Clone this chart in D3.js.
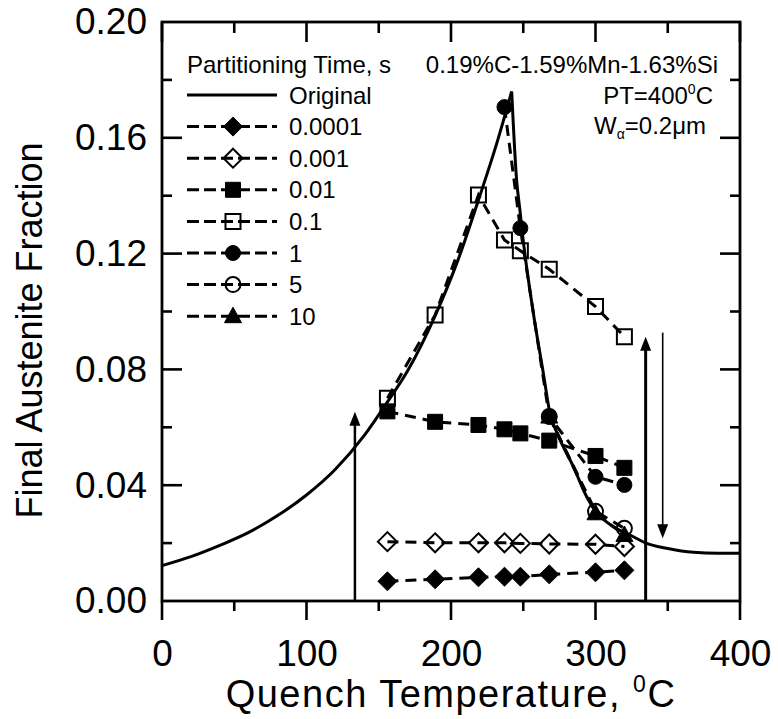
<!DOCTYPE html>
<html>
<head>
<meta charset="utf-8">
<script src="https://cdn.jsdelivr.net/npm/d3@7"></script>
<style>
html,body{margin:0;padding:0;background:#fff;}
svg{display:block;font-family:"Liberation Sans",Arial,Helvetica,sans-serif;}
</style>
</head>
<body>
<svg id="chart" width="778" height="719"></svg>
<script>
// ---------------- data ----------------
const originalT = [0,20,40,60,80,100,120,140,155,170,189,205,219,231.6,242,
                   245.4,247.7,249,257,263.9,268.5,273.5,284.7,293.9,300.5,312.3,326.2,335.4,349.2,367.7,385,400];
const originalF = [.0122,.0153,.0192,.0237,.0295,.0366,.0455,.0572,.068,.0795,.0985,.118,.1385,.158,.176,
                   .1454,.135,.1288,.0994,.0787,.0648,.0579,.0464,.036,.0308,.0257,.0222,.0199,.0182,.0168,.0165,.0165];

const quenchT   = [156,189,219,237,248,268,300,320];
const t0001     = [.0068,.0075,.0082,.0084,.0084,.0092,.0099,.0106];
const t001      = [.0205,.0201,.0201,.0201,.0199,.0197,.0196,.0188];
const t01       = [.0655,.0619,.0608,.0593,.0579,.0554,.0501,.046];
const t1e1      = [.070,.0988,.1402,.1247,.121,.1146,.1017,.0913];
const quenchT1  = [237,248,268,300,320];
const t1        = [.1706,.1288,.0637,.0429,.0401];
const quenchT5  = [268,300,320];
const t5        = [.0637,.031,.0251];
const t10       = [.0637,.0303,.0228];

const legendLabels = ["Original","0.0001","0.001","0.01","0.1","1","5","10"];
const xTicks = [0,100,200,300,400];
const xMinor = [50,150,250,350];
const yTicks = [0,0.04,0.08,0.12,0.16,0.20];
const yMinor = [0.02,0.06,0.10,0.14,0.18];

const arrowT    = [133.5,334.7,346.5];
const arrowFrom = [0,0,.0927];
const arrowTo   = [.0654,.0913,.0217];
const arrowW    = [2.5,3,1.6];

// ---------------- layout ----------------
const svg = d3.select("#chart");
const x = d3.scaleLinear().domain([0,400]).range([162,740]);
const y = d3.scaleLinear().domain([0,0.2]).range([601,22]);
const X0 = 162, X1 = 740, Y0 = 601, Y1 = 22;

function markerPath(type){
  if(type==="diamond") return "M0,-9.5L9.5,0L0,9.5L-9.5,0Z";
  if(type==="square") return "M-7.5,-7.5H7.5V7.5H-7.5Z";
  if(type==="circle") return d3.symbol(d3.symbolCircle, Math.PI*7.5*7.5)();
  if(type==="triangle") return "M0,-9L8.5,6.5L-8.5,6.5Z";
}
const series = [
  {label:"0.0001", T:quenchT,  F:t0001, type:"diamond", filled:true},
  {label:"0.001",  T:quenchT,  F:t001,  type:"diamond", filled:false},
  {label:"0.01",   T:quenchT,  F:t01,   type:"square",  filled:true},
  {label:"0.1",    T:quenchT,  F:t1e1,  type:"square",  filled:false},
  {label:"1",      T:quenchT1, F:t1,    type:"circle",  filled:true},
  {label:"5",      T:quenchT5, F:t5,    type:"circle",  filled:false},
  {label:"10",     T:quenchT5, F:t10,   type:"triangle",filled:true}
];

// ---------------- axes (labels via d3-axis) ----------------
const fmtY = d3.format(".2f");
const gL = svg.append("g").attr("transform",`translate(${X0},0)`)
  .call(d3.axisLeft(y).tickValues(yTicks).tickSize(0).tickPadding(15).tickFormat(fmtY));
const gB = svg.append("g").attr("transform",`translate(0,${Y0})`)
  .call(d3.axisBottom(x).tickValues(xTicks).tickSize(0).tickPadding(39).tickFormat(d3.format("d")));
[gL,gB].forEach(g=>{
  g.select(".domain").remove();
  g.selectAll(".tick line").remove();
  g.selectAll(".tick text").attr("fill","#000").attr("font-size",37)
   .attr("font-family","'Liberation Sans',Arial,sans-serif");
});

// tick marks
const tickG = svg.append("g");
function tickLine(x1,y1,x2,y2){
  tickG.append("line").attr("x1",x1).attr("y1",y1).attr("x2",x2).attr("y2",y2)
    .attr("stroke","#000").attr("stroke-width",2.6);
}
yTicks.slice(1,-1).forEach(v=>{ tickLine(X0,y(v),X0+20,y(v)); tickLine(X1,y(v),X1-20,y(v)); });
yMinor.forEach(v=>{ tickLine(X0,y(v),X0+10,y(v)); tickLine(X1,y(v),X1-10,y(v)); });
xTicks.forEach(v=>{ tickLine(x(v),Y0,x(v),Y0+19); tickLine(x(v),Y1,x(v),Y1+20); });
xMinor.forEach(v=>{ tickLine(x(v),Y0,x(v),Y0+10); tickLine(x(v),Y1,x(v),Y1+11); });

// frame
svg.append("rect").attr("x",X0).attr("y",Y1).attr("width",X1-X0).attr("height",Y0-Y1)
  .attr("fill","none").attr("stroke","#000").attr("stroke-width",2.8);

// axis titles
const xt = svg.append("text").attr("x",x(200)).attr("y",707).attr("text-anchor","middle")
  .attr("font-size",38).attr("letter-spacing",1.5).attr("fill","#000");
xt.append("tspan").text("Quench Temperature, ");
xt.append("tspan").attr("font-size",23).attr("dy",-15).text("0");
xt.append("tspan").attr("dy",15).text("C");

svg.append("text").attr("transform",`translate(42,${(Y1+Y0)/2+19}) rotate(-90)`)
  .attr("text-anchor","middle").attr("font-size",36).attr("fill","#000")
  .text("Final Austenite Fraction");

// ---------------- data marks ----------------
const plot = svg.append("g");
const peakIdx = originalF.indexOf(d3.max(originalF));
const orig = originalT.map((t,i)=>[t,originalF[i]]);
const lineO = d3.line().x(d=>x(d[0])).y(d=>y(d[1])).curve(d3.curveMonotoneX);
[orig.slice(0,peakIdx+1), orig.slice(peakIdx)].forEach(seg=>{
  plot.append("path").attr("d",lineO(seg)).attr("fill","none")
    .attr("stroke","#000").attr("stroke-width",3);
});

const lineS = d3.line().x(d=>x(d[0])).y(d=>y(d[1]));
series.forEach(s=>{
  const pts = s.T.map((t,i)=>[t,s.F[i]]);
  plot.append("path").attr("d",lineS(pts)).attr("fill","none")
    .attr("stroke","#000").attr("stroke-width",3).attr("stroke-dasharray","11,7");
});
series.forEach(s=>{
  const pts = s.T.map((t,i)=>[t,s.F[i]]);
  plot.selectAll(null).data(pts).enter().append("path")
    .attr("d",markerPath(s.type))
    .attr("transform",d=>`translate(${x(d[0])},${y(d[1])})`)
    .attr("fill",s.filled?"#000":"none")
    .attr("stroke","#000").attr("stroke-width",s.filled?1:2);
});

// arrows
arrowT.forEach((t,i)=>{
  const x0 = x(t), y0 = y(arrowFrom[i]), y1 = y(arrowTo[i]);
  const dir = y1<y0 ? -1 : 1;
  svg.append("line").attr("x1",x0).attr("x2",x0).attr("y1",y0).attr("y2",y1-dir*12)
    .attr("stroke","#000").attr("stroke-width",arrowW[i]);
  svg.append("path").attr("d",`M${x0},${y1}L${x0-5.5},${y1-dir*14}L${x0+5.5},${y1-dir*14}Z`)
    .attr("fill","#000");
});

// ---------------- legend ----------------
const lg = svg.append("g").attr("font-size",24).attr("fill","#000");
lg.append("text").attr("x",187).attr("y",73).text("Partitioning Time, s");
const rowY = i => 95 + i*31.6;
legendLabels.forEach((lab,i)=>{
  const yy = rowY(i);
  if(i===0){
    lg.append("line").attr("x1",187).attr("x2",277).attr("y1",yy).attr("y2",yy)
      .attr("stroke","#000").attr("stroke-width",3);
  } else {
    const s = series[i-1];
    lg.append("line").attr("x1",187).attr("x2",277).attr("y1",yy).attr("y2",yy)
      .attr("stroke","#000").attr("stroke-width",3).attr("stroke-dasharray","12,5");
    lg.append("path").attr("d",markerPath(s.type)).attr("transform",`translate(233,${yy})`)
      .attr("fill",s.filled?"#000":"none").attr("stroke","#000").attr("stroke-width",s.filled?1:2);
  }
  lg.append("text").attr("x",289).attr("y",yy+8.5).text(lab);
});

// annotations
const an = svg.append("g").attr("font-size",24).attr("fill","#000").attr("text-anchor","end");
an.append("text").attr("x",718).attr("y",73).text("0.19%C-1.59%Mn-1.63%Si");
const pt = an.append("text").attr("x",713).attr("y",104);
pt.append("tspan").text("PT=400");
pt.append("tspan").attr("font-size",14).attr("dy",-10).text("0");
pt.append("tspan").attr("dy",10).text("C");
const wa = an.append("text").attr("x",706).attr("y",134);
wa.append("tspan").text("W");
wa.append("tspan").attr("font-size",14).attr("dy",5).text("α");
wa.append("tspan").attr("dy",-5).text("=0.2μm");
</script>
</body>
</html>
